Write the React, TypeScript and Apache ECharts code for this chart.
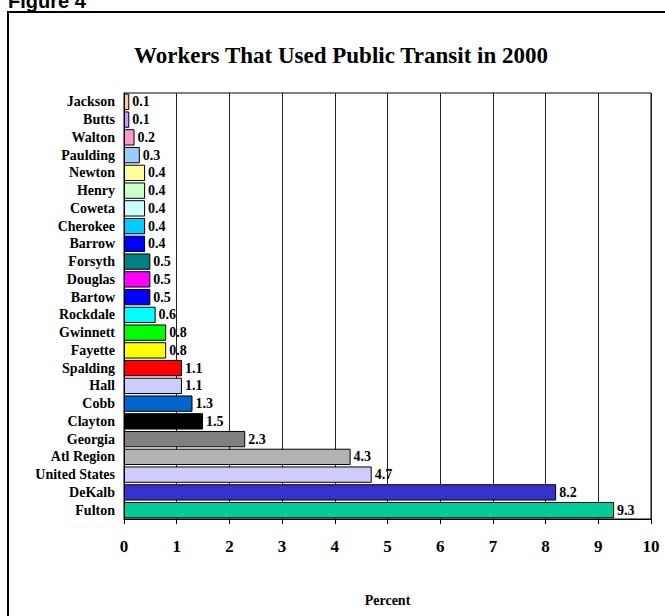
import React, { useEffect, useRef } from "react";
import * as echarts from "echarts";

const categories = [
  "Jackson", "Butts", "Walton", "Paulding", "Newton", "Henry", "Coweta", "Cherokee",
  "Barrow", "Forsyth", "Douglas", "Bartow", "Rockdale", "Gwinnett", "Fayette", "Spalding",
  "Hall", "Cobb", "Clayton", "Georgia", "Atl Region", "United States", "DeKalb", "Fulton",
];
const values = [
  0.1, 0.1, 0.2, 0.3, 0.4, 0.4, 0.4, 0.4, 0.4, 0.5, 0.5, 0.5, 0.6, 0.8, 0.8, 1.1,
  1.1, 1.3, 1.5, 2.3, 4.3, 4.7, 8.2, 9.3,
];
const barColors = [
  "#FFCC99", "#CC99FF", "#FF99CC", "#99CCFF", "#FFFF99", "#CCFFCC", "#CCFFFF", "#00CCFF",
  "#0000FF", "#008080", "#FF00FF", "#0000FF", "#00FFFF", "#00FF00", "#FFFF00", "#FF0000",
  "#CCCCFF", "#0066CC", "#000000", "#808080", "#B2B2B2", "#CCCCFF", "#3333CC", "#00CC99",
];
const xTicks = [0, 1, 2, 3, 4, 5, 6, 7, 8, 9, 10];

const SERIF = "'Liberation Serif', 'Times New Roman', serif";

export default function App() {
  const ref = useRef<HTMLDivElement>(null);
  useEffect(() => {
    if (!ref.current) return;
    const chart = echarts.init(ref.current, null, { renderer: "svg" });
    chart.setOption({
      animation: false,
      backgroundColor: "#ffffff",
      title: {
        text: "Workers That Used Public Transit in 2000",
        left: 336,
        top: 39,
        textAlign: "center",
        textStyle: { fontFamily: SERIF, fontWeight: "bold", fontSize: 23, color: "#000" },
      },
      grid: {
        left: 124,
        right: 14,
        top: 93,
        bottom: 97,
        show: true,
        borderColor: "#000",
        borderWidth: 1,
        backgroundColor: "transparent",
        containLabel: false,
      },
      xAxis: {
        type: "value",
        min: xTicks[0],
        max: xTicks[xTicks.length - 1],
        interval: 1,
        name: "Percent",
        nameLocation: "middle",
        nameGap: 74,
        nameTextStyle: { fontFamily: SERIF, fontWeight: "bold", fontSize: 14, color: "#000" },
        axisLine: { show: true, lineStyle: { color: "#000", width: 1 } },
        axisTick: { show: true, length: 5, lineStyle: { color: "#000" } },
        axisLabel: {
          fontFamily: SERIF, fontWeight: "bold", fontSize: 17, color: "#000", margin: 19,
        },
        splitLine: { show: true, lineStyle: { color: "#222", width: 1 } },
      },
      yAxis: {
        type: "category",
        inverse: true,
        data: categories,
        axisLine: { show: true, lineStyle: { color: "#000", width: 1 } },
        axisTick: { show: false },
        axisLabel: {
          interval: 0,
          fontFamily: SERIF, fontWeight: "bold", fontSize: 14, color: "#000", margin: 9,
        },
        splitLine: { show: false },
      },
      series: [
        {
          type: "bar",
          barCategoryGap: "8%",
          data: values.map((v, i) => ({
            value: v,
            itemStyle: { color: barColors[i], borderColor: "#000", borderWidth: 1 },
          })),
          label: {
            show: true,
            position: "right",
            distance: 3,
            fontFamily: SERIF,
            fontWeight: "bold",
            fontSize: 14,
            color: "#000",
            formatter: (p: any) => Number(p.value).toFixed(1),
          },
        },
      ],
      graphic: [
        {
          type: "text",
          x: 8,
          y: 11,
          style: {
            text: "Figure 4",
            fontFamily: "'Liberation Sans', Arial, sans-serif",
            fontWeight: "bold",
            fontSize: 20,
            fill: "#000",
            verticalAlign: "bottom",
          },
        },
        {
          type: "line",
          shape: { x1: 7, y1: 12, x2: 665, y2: 12 },
          style: { stroke: "#000", lineWidth: 2 },
        },
        {
          type: "line",
          shape: { x1: 8, y1: 11, x2: 8, y2: 616 },
          style: { stroke: "#000", lineWidth: 2 },
        },
      ],
    });
    return () => chart.dispose();
  }, []);
  return (
    <div
      ref={ref}
      style={{ position: "fixed", left: 0, top: 0, width: 665, height: 616 }}
    />
  );
}
